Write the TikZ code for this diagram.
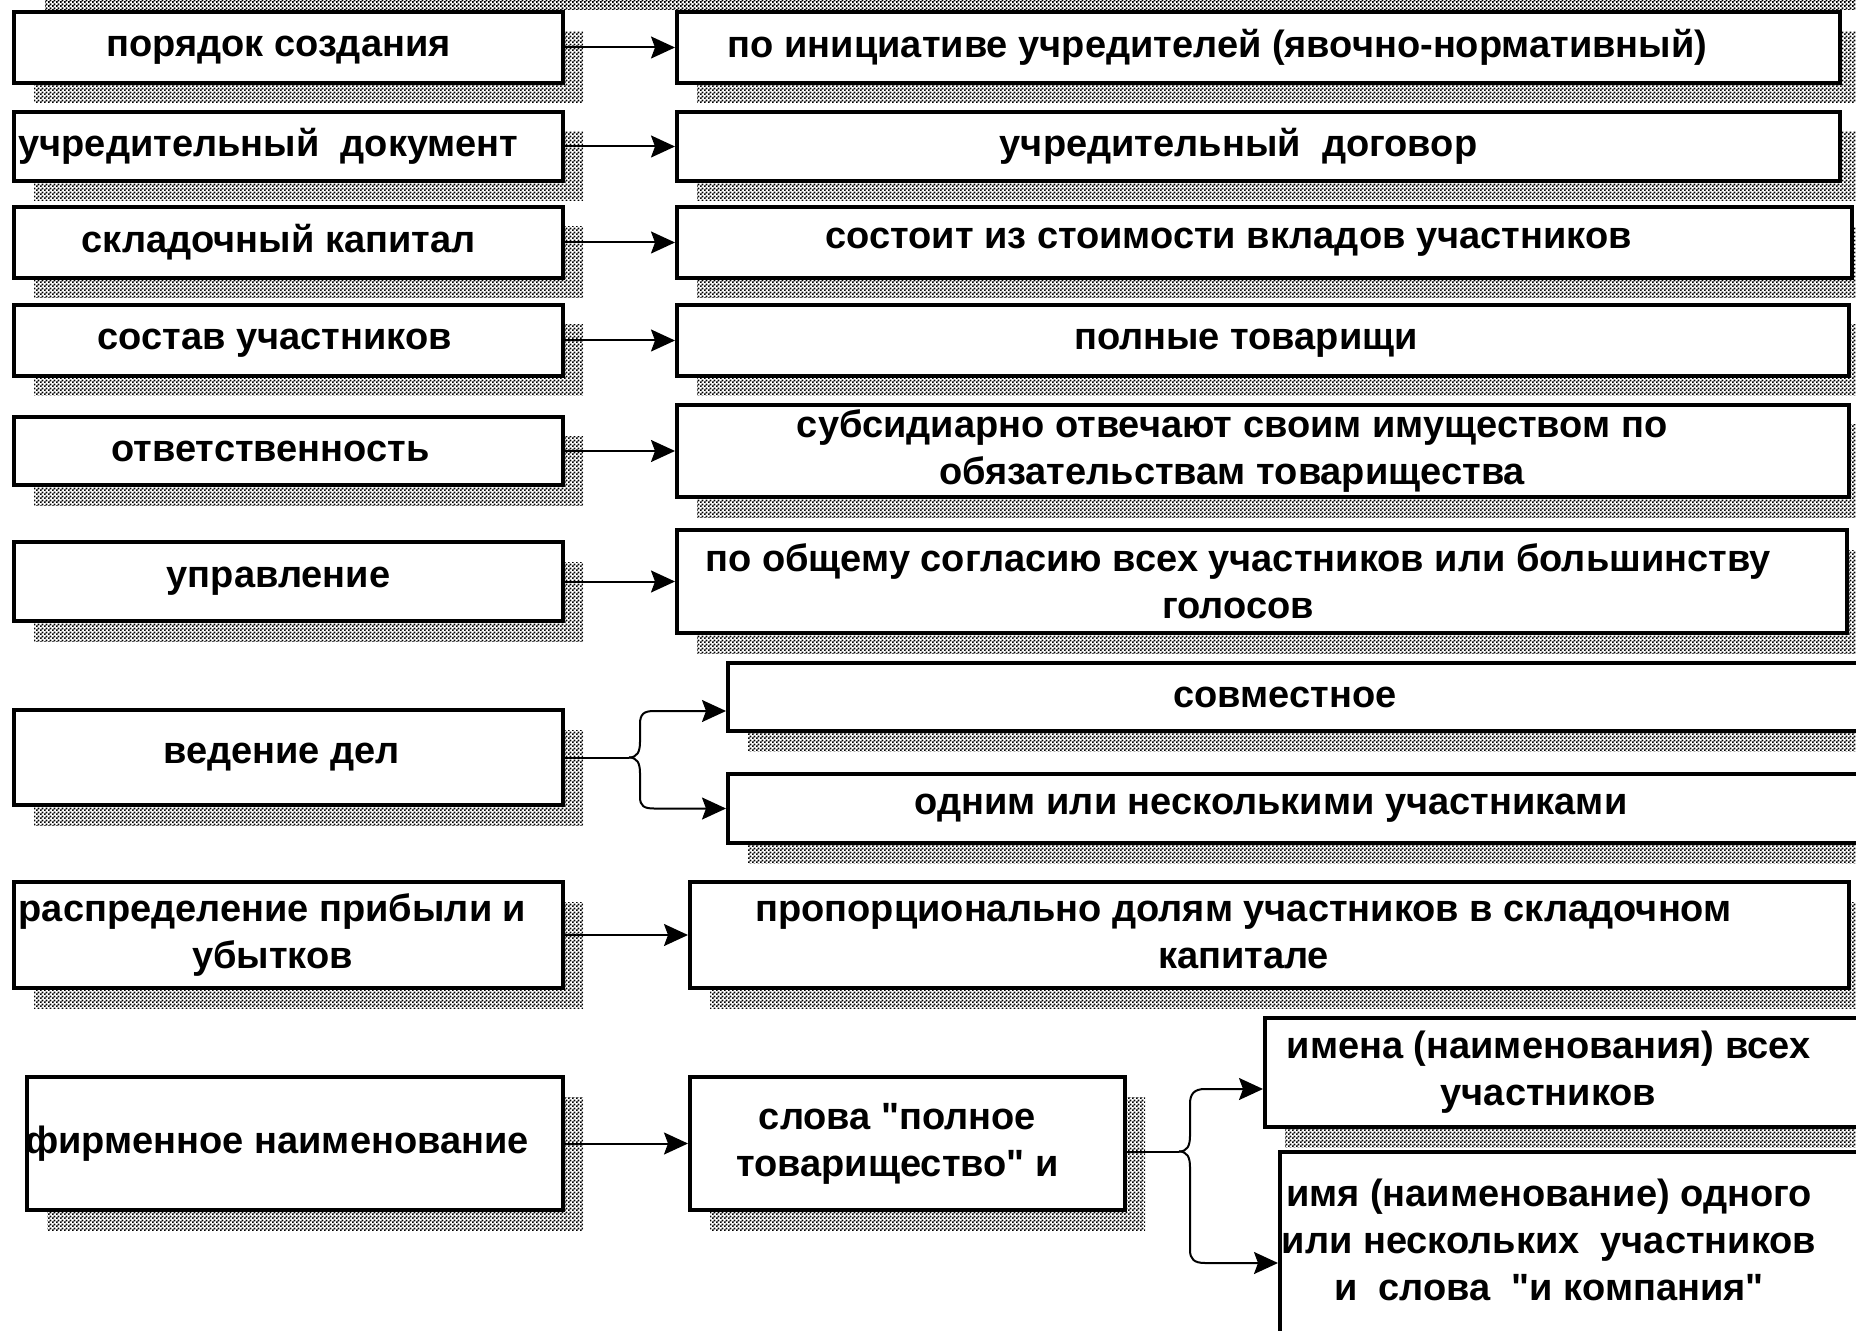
\documentclass[tikz,border=0pt]{standalone}
\usepackage{fontspec}
\setmainfont{Liberation Sans}[Ligatures=TeXOff]
\usetikzlibrary{shadows,patterns,arrows.meta}
\pgfdeclarepatternformonly{dither}{\pgfqpoint{0pt}{0pt}}{\pgfqpoint{2pt}{2pt}}{\pgfqpoint{2pt}{2pt}}{%
 \pgfpathrectangle{\pgfqpoint{0pt}{0pt}}{\pgfqpoint{1.05pt}{1.05pt}}%
 \pgfpathrectangle{\pgfqpoint{1pt}{1pt}}{\pgfqpoint{1.05pt}{1.05pt}}%
 \pgfusepath{fill}}
\begin{document}
\begin{tikzpicture}[x=0.5pt,y=-0.5pt,
  box/.style={draw, line width=2pt, fill=white, inner sep=0pt,
    general shadow={shadow xshift=10pt, shadow yshift=-10pt, pattern=dither, pattern color=black}},
  lbl/.style={font=\fontsize{19}{23.5}\selectfont\bfseries, align=center, inner sep=0pt},
  conn/.style={line width=1pt, -{Stealth[length=12pt,width=11pt,inset=2pt]}},
  stem/.style={line width=1pt}]
\useasboundingbox (0,0) rectangle (1856,1331);
\clip (0,0) rectangle (1856,1331);
\fill[pattern=dither, pattern color=black] (45,0) rectangle (1856,10);

% left column
\node[box, minimum width=274.5pt, minimum height=35.5pt] (l1) at (288.5,47.5) {};
\node[box, minimum width=274.5pt, minimum height=34.5pt] (l2) at (288.5,146.5) {};
\node[box, minimum width=274.5pt, minimum height=35.5pt] (l3) at (288.5,242.5) {};
\node[box, minimum width=274.5pt, minimum height=35.5pt] (l4) at (288.5,340.5) {};
\node[box, minimum width=274.5pt, minimum height=34pt] (l5) at (288.5,451) {};
\node[box, minimum width=274.5pt, minimum height=39.5pt] (l6) at (288.5,581.5) {};
\node[box, minimum width=274.5pt, minimum height=47.5pt] (l7) at (288.5,757.5) {};
\node[box, minimum width=274.5pt, minimum height=53pt] (l8) at (288.5,935) {};
\node[box, minimum width=268pt, minimum height=66.5pt] (l9) at (295,1143.5) {};

% right column
\node[box, minimum width=581.5pt, minimum height=35.5pt] (r1) at (1258.5,47.5) {};
\node[box, minimum width=581.5pt, minimum height=34.5pt] (r2) at (1258.5,146.5) {};
\node[box, minimum width=587.5pt, minimum height=35.5pt] (r3) at (1264.5,242.5) {};
\node[box, minimum width=586pt, minimum height=35.5pt] (r4) at (1263,340.5) {};
\node[box, minimum width=586pt, minimum height=46pt] (r5) at (1263,451) {};
\node[box, minimum width=585pt, minimum height=51.5pt] (r6) at (1262,581.5) {};
\node[box, minimum width=576pt, minimum height=34pt] (r7a) at (1304,697) {};
\node[box, minimum width=576pt, minimum height=34.5pt] (r7b) at (1304,808.5) {};
\node[box, minimum width=579.5pt, minimum height=53pt] (r8) at (1269.5,935) {};
\node[box, minimum width=217.5pt, minimum height=66.5pt] (m9) at (907.5,1143.5) {};
\node[box, minimum width=307.5pt, minimum height=54.5pt] (r9a) at (1572.5,1072.5) {};
\node[box, minimum width=300pt, minimum height=94pt] (r9b) at (1580,1246) {};

% texts
\node[lbl, xshift=-5pt, yshift=-1.5pt] (tl1) at (l1) {порядок создания};
\node[lbl, xshift=-10pt] (tl2) at (l2) {учредительный\ \ документ};
\node[lbl, xshift=-5pt] (tl3) at (l3) {складочный капитал};
\node[lbl, xshift=-7pt, yshift=-1.5pt] (tl4) at (l4) {состав участников};
\node[lbl, xshift=-9pt] (tl5) at (l5) {ответственность};
\node[lbl, xshift=-5pt] (tl6) at (l6) {управление};
\node[lbl, xshift=-3.5pt] (tl7) at (l7) {ведение дел};
\node[lbl, xshift=-8pt] (tl8) at (l8) {распределение прибыли и\\убытков};
\node[lbl, xshift=-9pt] (tl9) at (l9) {фирменное наименование};

\node[lbl, xshift=-20.5pt] (tr1) at (r1) {по инициативе учредителей (явочно-нормативный)};
\node[lbl, xshift=-10pt] (tr2) at (r2) {учредительный\ \ договор};
\node[lbl, xshift=-18pt] (tr3) at (r3) {состоит из стоимости вкладов участников};
\node[lbl, xshift=-8.5pt, yshift=-1.5pt] (tr4) at (r4) {полные товарищи};
\node[lbl, xshift=-15.5pt] (tr5) at (r5) {субсидиарно отвечают своим имуществом по\\обязательствам товарищества};
\node[lbl, xshift=-12pt] (tr6) at (r6) {по общему согласию всех участников или большинству\\голосов};
\node[lbl, xshift=-9.5pt] (tr7a) at (r7a) {совместное};
\node[lbl, xshift=-16.5pt] (tr7b) at (r7b) {одним или несколькими участниками};
\node[lbl, xshift=-13pt] (tr8) at (r8) {пропорционально долям участников в складочном\\капитале};
\node[lbl, xshift=-5pt] (tm9) at (m9) {слова "полное\\товарищество" и};
\node[lbl, xshift=-12pt] (tr9a) at (r9a) {имена (наименования) всех\\участников};
\node[lbl, xshift=-15.5pt, yshift=3pt] (tr9b) at (r9b) {имя (наименование) одного\\или нескольких\ \ участников\\и\ \ слова\ \ "и компания"};

% connectors
\draw[conn] (l1.east) -- (r1.west);
\draw[conn] (l2.east) -- (r2.west);
\draw[conn] (l3.east) -- (r3.west);
\draw[conn] (l4.east) -- (r4.west);
\draw[conn] (l5.east) -- (r5.west);
\draw[conn] (l6.east) -- (r6.west);
\draw[conn] (l8.east) -- (r8.west);
\draw[conn] (l9.east) -- (m9.west);

% brace row 7
\coordinate (b7) at ([xshift=32pt]l7.east);
\draw[stem] (l7.east) -- (b7);
\draw[conn] (b7) .. controls (637,757.5) and (640,752) .. (640,742) -- (640,724)
  .. controls (640,714) and (644,711) .. (654,711) -- ([yshift=-7pt]r7a.west);
\draw[conn] (b7) .. controls (637,757.5) and (640,763) .. (640,773) -- (640,797)
  .. controls (640,806) and (644,808.5) .. (654,808.5) -- (r7b.west);

% brace row 9
\coordinate (b9) at ([xshift=26pt,yshift=-4pt]m9.east);
\draw[stem] ([yshift=-4pt]m9.east) -- (b9);
\draw[conn] (b9) .. controls (1187,1151.5) and (1190,1146) .. (1190,1136) -- (1190,1104)
  .. controls (1190,1094) and (1194,1089) .. (1205,1089) -- ([yshift=-8.25pt]r9a.west);
\draw[conn] (b9) .. controls (1187,1151.5) and (1190,1157) .. (1190,1167) -- (1190,1250)
  .. controls (1190,1259) and (1194,1263) .. (1205,1263) -- ([yshift=-8.5pt]r9b.west);
\end{tikzpicture}
\end{document}
